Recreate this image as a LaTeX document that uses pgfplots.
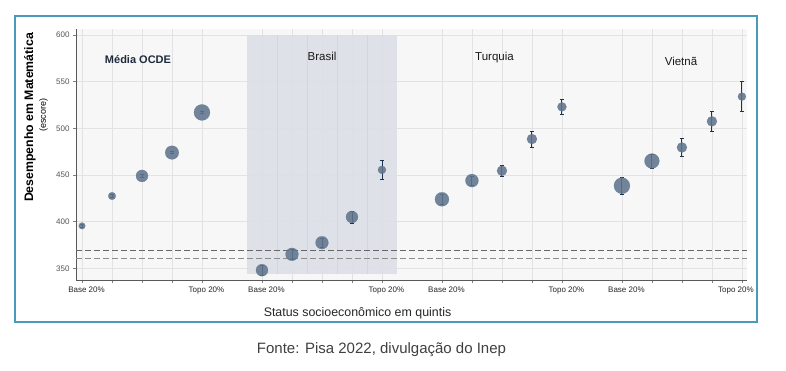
\documentclass[border=0pt]{standalone}
\usepackage{pgfplots}
\usepackage{pgfplotstable}
\pgfplotsset{compat=1.18}
\usepackage{fontspec}
\setmainfont{Liberation Sans}
\definecolor{bgc}{HTML}{F7F7F7}
\definecolor{gridc}{HTML}{E2E2E2}
\definecolor{shadec}{HTML}{DCE0E7}
\definecolor{halfc}{HTML}{D2D6DD}
\definecolor{framec}{RGB}{74,155,186}
\definecolor{markc}{RGB}{96,117,141}
\definecolor{errc}{RGB}{30,50,75}
\definecolor{tickc}{HTML}{555555}
\definecolor{navy}{HTML}{1E2B3C}

\pgfplotstableread{
x  y     e    r
0  395.5 1.5  3.3
1  427.5 1.5  3.8
2  449.0 1.2  6.0
3  474.0 1.2  6.8
4  517.0 1.2  8.0
6  348.0 5.0  6.0
7  365.0 5.5  6.4
8  377.5 5.0  6.4
9  405.0 6.5  6.0
10 455.5 10.5 4.0
12 424.0 5.5  7.0
13 444.0 5.0  6.5
14 454.5 5.5  5.0
15 488.5 8.5  5.0
16 523.0 8.5  4.5
18 438.5 9.0  8.0
19 465.0 7.5  7.4
20 479.5 10.0 5.0
21 507.5 11.0 5.0
22 534.0 16.0 4.0
}\pts

\begin{document}
\begin{tikzpicture}[x=1pt,y=1pt]
\useasboundingbox (0,0) rectangle (786,370);
\fill[white] (0,0) rectangle (786,370);
\draw[framec, line width=1.8pt] (15,354) rectangle (757,48);
\begin{axis}[
  at={(76pt,90pt)}, anchor=south west,
  scale only axis, width=671pt, height=251pt,
  xmin=-0.2, xmax=22.17, ymin=337.5, ymax=606.4,
  axis lines*=left,
  axis line style={draw=black!65, line width=0.8pt, -},
  axis background/.style={fill=bgc},
  xtick={0,1,2,3,4,6,7,8,9,10,12,13,14,15,16,18,19,20,21,22},
  xticklabels={Base 20\%,,,,\raisebox{-2pt}{Topo 20\%},Base 20\%,,,,\raisebox{-2pt}{Topo 20\%},Base 20\%,,,,\raisebox{-2pt}{Topo 20\%},Base 20\%,,,,\hspace{-21pt}Topo 20\%},
  ytick={350,400,450,500,550,600},
  grid=major,
  major grid style={draw=gridc, line width=0.8pt},
  tick align=outside, major tick length=3pt,
  tick style={draw=black!50, line width=0.6pt},
  xticklabel style={font=\fontsize{8}{9}\selectfont, text=black!85, xshift=4.5pt},
  yticklabel style={font=\fontsize{8}{9}\selectfont, text=tickc},
  /pgf/number format/assume math mode=true,
  clip=false,
]
\fill[shadec, fill opacity=0.92] (axis cs:5.5,344) rectangle (axis cs:10.5,600);
\foreach \h in {6.5,7.5,8.5,9.5}{
  \edef\tmp{\noexpand\draw[halfc, line width=0.6pt] (axis cs:\h,344) -- (axis cs:\h,600);}\tmp
}
\addplot[draw=black!60, line width=0.8pt, dash pattern=on 6pt off 3pt] coordinates {(-0.2,369) (22.17,369)};
\addplot[draw=black!45, line width=0.8pt, dash pattern=on 6pt off 3pt] coordinates {(-0.2,361) (22.17,361)};
\addplot[scatter, only marks, mark=*,
  scatter/use mapped color={draw=markc, fill=markc},
  mark options={fill opacity=0.88, draw opacity=0.88, line width=0.2pt},
  visualization depends on={\thisrow{r}\as\rad},
  scatter/@pre marker code/.append style={/tikz/mark size=\rad},
] table[x=x, y=y] {\pts};
\addplot[draw=none, mark=none, forget plot,
  error bars/.cd, y dir=both, y explicit,
  error bar style={draw=errc, line width=0.9pt, solid},
  error mark options={draw=errc, rotate=90, mark size=2pt, line width=0.7pt},
] table[x=x, y=y, y error=e] {\pts};
\end{axis}
\node[font=\bfseries\fontsize{12.3}{13}\selectfont, rotate=90] at (30,252.5) {Desempenho em Matemática};
\node[font=\fontsize{9}{10}\selectfont, rotate=90] at (43.5,255) {(escore)};
\node[font=\bfseries\fontsize{11}{12}\selectfont, text=navy] at (138,310) {Média OCDE};
\node[font=\fontsize{11.5}{12}\selectfont, text=black!90] at (322,313.3) {Brasil};
\node[font=\fontsize{11.5}{12}\selectfont, text=black!90] at (494.5,312.3) {Turquia};
\node[font=\fontsize{11.5}{12}\selectfont, text=black!90] at (681,309) {Vietnã};
\node[font=\fontsize{12.4}{13}\selectfont, text=black!85] at (357.5,57) {Status socioeconômico em quintis};
\node[font=\fontsize{15}{16}\selectfont, text=black!75] at (381.5,20) {Fonte: Pisa 2022, divulgação do Inep};
\end{tikzpicture}
\end{document}
